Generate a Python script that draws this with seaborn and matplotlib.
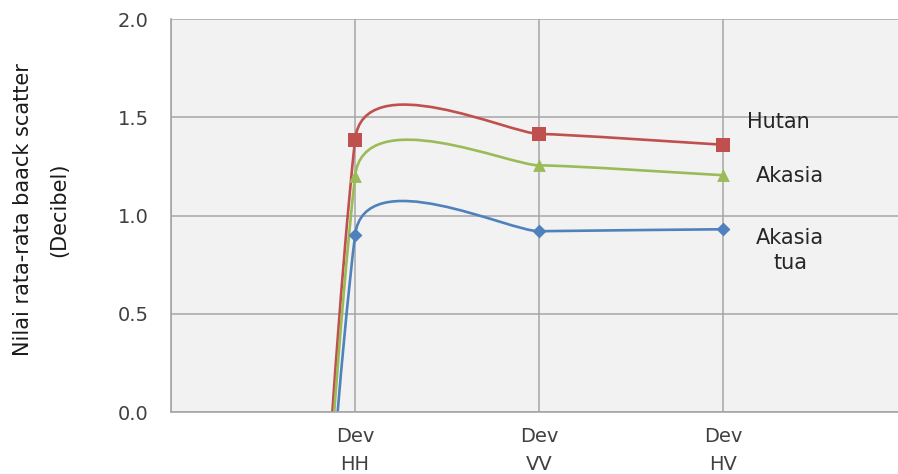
import numpy as np
import pandas as pd
import matplotlib
matplotlib.use("Agg")
import matplotlib.pyplot as plt
from matplotlib.path import Path
from matplotlib.patches import PathPatch
import seaborn as sns

# Data
categories = ["", "Dev\nHH", "Dev\nVV", "Dev\nHV"]
hutan = [-16.0, 1.385, 1.415, 1.36]
akasia = [-15.5, 1.20, 1.255, 1.205]
akasia_tua = [-14.5, 0.90, 0.92, 0.93]

series = {"Hutan": hutan, "Akasia": akasia, "Akasia tua": akasia_tua}
colors = {"Hutan": "#C0504D", "Akasia": "#9BBB59", "Akasia tua": "#4F81BD"}
markers = {"Hutan": "s", "Akasia": "^", "Akasia tua": "D"}
sizes = {"Hutan": 90, "Akasia": 85, "Akasia tua": 50}

sns.set_style("whitegrid")
plt.rcParams["font.family"] = ["DejaVu Sans"]


def smooth_path(xs, ys, f=1 / 6, cap=0.16, ky=0.4):
    """Excel-like smoothed line built from cubic Bezier segments."""
    pts = np.column_stack([np.asarray(xs, float), np.asarray(ys, float) * ky])
    n = len(pts)
    verts = [pts[0]]
    codes = [Path.MOVETO]
    for i in range(n - 1):
        p0 = pts[max(i - 1, 0)]
        p1 = pts[i]
        p2 = pts[i + 1]
        p3 = pts[min(i + 2, n - 1)]
        d12 = np.linalg.norm(p2 - p1)
        t1 = p2 - p0
        t2 = p3 - p1
        h1 = min(f * np.linalg.norm(t1), cap * d12)
        h2 = min(f * np.linalg.norm(t2), cap * d12)
        c1 = p1 + t1 / np.linalg.norm(t1) * h1
        c2 = p2 - t2 / np.linalg.norm(t2) * h2
        verts += [c1, c2, p2]
        codes += [Path.CURVE4] * 3
    verts = np.array(verts)
    verts[:, 1] /= ky
    return Path(verts, codes)


fig = plt.figure(figsize=(8.98, 4.74), dpi=100)
ax = fig.add_axes([171 / 898, 62 / 474, 727 / 898, 393 / 474])
ax.set_facecolor("#F2F2F2")

pos = np.arange(len(categories))
rows = []
for name, vals in series.items():
    ax.add_patch(PathPatch(smooth_path(pos, vals), fill=False,
                           edgecolor=colors[name], linewidth=1.9, zorder=2))
    for p, v in zip(pos, vals):
        rows.append({"pos": p, "val": v, "kelas": name})
df = pd.DataFrame(rows)

for name in series:
    sub = df[df["kelas"] == name]
    sns.scatterplot(data=sub, x="pos", y="val", marker=markers[name],
                    color=colors[name], s=sizes[name], linewidth=0,
                    ax=ax, zorder=3, legend=False)

ax.set_xlim(0, 3.95)
ax.set_ylim(0, 2.0)
ax.set_xticks(pos)
ax.set_xticklabels(categories, fontsize=14, color="#404040", linespacing=1.6)
ax.set_yticks([0, 0.5, 1.0, 1.5, 2.0])
ax.set_yticklabels(["0.0", "0.5", "1.0", "1.5", "2.0"], fontsize=14, color="#404040")
ax.tick_params(axis="x", length=0, pad=11)
ax.tick_params(axis="y", length=6, width=1, color="#A6A6A6", pad=10)
ax.set_xlabel("")
ax.set_ylabel("")
ax.grid(True, color="#A6A6A6", linewidth=1.1)
for s in ["top", "right"]:
    ax.spines[s].set_visible(False)
for s in ["left", "bottom"]:
    ax.spines[s].set_color("#A6A6A6")
    ax.spines[s].set_linewidth(1.2)

# series labels at the right
ax.text(3.30, 1.476, "Hutan", fontsize=15, color="#262626", ha="center", va="center")
ax.text(3.364, 1.20, "Akasia", fontsize=15, color="#262626", ha="center", va="center")
ax.text(3.364, 0.82, "Akasia\ntua", fontsize=15, color="#262626", ha="center",
        va="center", linespacing=1.3)

fig.text(41 / 898, 1 - 210 / 474, "Nilai rata-rata baack scatter\n(Decibel)",
         rotation=90, ha="center", va="center", fontsize=15, linespacing=2.0,
         family=["Liberation Sans Narrow", "DejaVu Sans"], color="#1a1a1a")

fig.savefig("out.png", dpi=100, facecolor="white")
